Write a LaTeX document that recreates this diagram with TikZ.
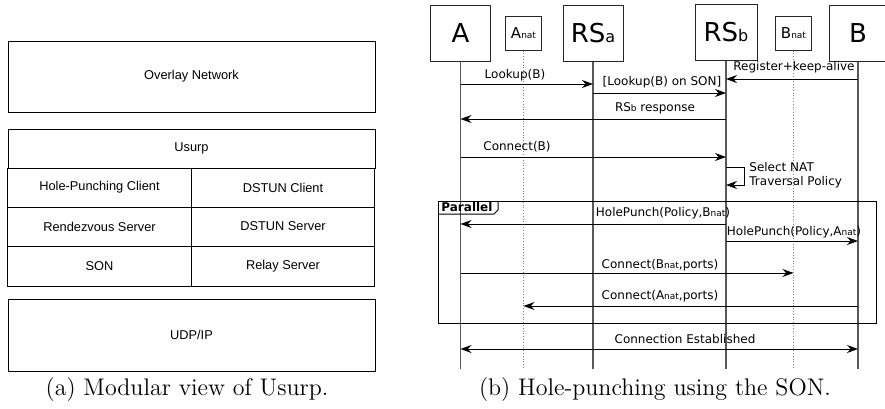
\documentclass[tikz,border=0pt]{standalone}
\usepackage{fontspec}
\newfontfamily\seqfont{DejaVu Sans}
\newfontfamily\layfont{Liberation Sans}
\usetikzlibrary{arrows.meta}

% small "nat" / index letters
\newcommand{\natsm}{{\fontsize{4.5}{5}\selectfont nat}}
\newcommand{\headsm}[1]{{\fontsize{8}{9}\selectfont #1}}

\tikzset{
	layer/.style={draw, line width=0.5pt, minimum width=183.5pt, minimum height=19.5pt, inner sep=0pt, font=\layfont\fontsize{6.4}{7.5}\selectfont},
	half/.style={layer, minimum width=91.75pt},
	head/.style={draw=black!85, line width=0.5pt, minimum width=30pt, minimum height=28pt, inner sep=0pt, font=\seqfont\fontsize{13}{14}\selectfont},
	nathead/.style={head, minimum width=18pt, minimum height=17pt, font=\seqfont\fontsize{7.5}{8}\selectfont},
	life/.style={draw=black!65, line width=0.6pt},
	natlife/.style={draw=black!50, line width=0.4pt, densely dotted},
	msg/.style={->, line width=0.5pt},
	lbl/.style={inner sep=0pt, font=\seqfont\fontsize{6}{7}\selectfont},
	capt/.style={anchor=base, inner sep=0pt, font=\fontsize{12}{14}\selectfont}
}

\begin{document}
\begin{tikzpicture}[x=0.5pt, y=-0.5pt, >={Stealth[length=5.5pt, width=4pt, inset=1.8pt]}]

	\useasboundingbox (0,0) rectangle (885,408);

	% (a) layers
	\node[layer, minimum height=35.5pt] (overlay) at (191.5,76.5) {Overlay Network};
	\node[layer] (usurp) at (191.5,148.5) {Usurp};
	\node[half] (hpc) at (99.5,187.5) {Hole-Punching Client};
	\node[half] (dcl) at (283,187.5) {DSTUN Client};
	\node[half] (rdv) at (99.5,226.5) {Rendezvous Server};
	\node[half] (dsv) at (283,226.5) {DSTUN Server};
	\node[half, minimum height=20pt] (son) at (99.5,266) {SON};
	\node[half, minimum height=20pt] (relay) at (283,266) {Relay Server};
	\node[layer, minimum height=36pt] (udp) at (191.5,335) {UDP/IP};

	\node[capt] (capa) at (187,395) {(a) Modular view of Usurp.};

	% (b) heads
	\node[head] (A) at (460.5,33) {A};
	\node[nathead] (Anat) at (523.5,33) {A\natsm};
	\node[head] (RSa) at (593,33) {RS\headsm{a}};
	\node[head, minimum width=31pt] (RSb) at (726,32) {RS\headsm{b}};
	\node[nathead] (Bnat) at (793.5,33) {B\natsm};
	\node[head, minimum width=29pt] (B) at (858,33) {B};

	% lifelines
	\draw[life] (A) -- (A |- 0,369);
	\draw[natlife] (Anat) -- (Anat |- 0,369);
	\draw[life] (RSa) -- (RSa |- 0,369);
	\draw[life] (RSb) -- (RSb |- 0,369);
	\draw[natlife] (Bnat) -- (Bnat |- 0,369);
	\draw[life] (B) -- (B |- 0,369);

	% lookup
	\draw[msg] (B |- 0,79) -- (RSb |- 0,79);
	\node[lbl] (lreg) at (794,67) {Register+keep-alive};
	\draw[msg] (A |- 0,84) -- (RSa |- 0,84);
	\node[lbl] (llook) at (515,75) {Lookup(B)};
	\draw[msg] (RSa |- 0,93) -- (RSb |- 0,93);
	\node[lbl] (lson) at (662,82) {[Lookup(B) on SON]};
	\draw[msg] (RSb |- 0,119) -- (A |- 0,119);
	\node[lbl] (lresp) at (655,108) {RS{\fontsize{4.5}{5}\selectfont b} response};

	% connect
	\draw[msg] (A |- 0,157) -- (RSb |- 0,157);
	\node[lbl] (lconn) at (517,147) {Connect(B)};
	\draw[msg] (RSb |- 0,167) -| (744,185) -- (RSb |- 0,185);
	\node[lbl, anchor=west] (lsel) at (749,167) {Select NAT};
	\node[lbl, anchor=west] (ltrav) at (749,182) {Traversal Policy};

	% parallel frame
	\draw[line width=0.5pt] (438,201) rectangle (876,323);
	\draw[line width=0.5pt] (438,214) -- (494,214) -- (498,210) -- (498,201);
	\node[lbl, anchor=west, font=\seqfont\bfseries\fontsize{6}{7}\selectfont] (lpar) at (441,207.5) {Parallel};

	\draw[msg] (RSb |- 0,224) -- (A |- 0,224);
	\node[lbl] (lhpb) at (663,213) {HolePunch(Policy,B\natsm)};
	\draw[msg] (RSb |- 0,241) -- (B |- 0,241);
	\node[lbl] (lhpa) at (794,232) {HolePunch(Policy,A\natsm)};
	\draw[msg] (A |- 0,273) -- (Bnat |- 0,273);
	\node[lbl] (lcb) at (660,265) {Connect(B\natsm,ports)};
	\draw[msg] (B |- 0,306) -- (Anat |- 0,306);
	\node[lbl] (lca) at (660,296) {Connect(A\natsm,ports)};

	% established
	\draw[<->, line width=0.5pt] (A |- 0,349) -- (B |- 0,349);
	\node[lbl] (lest) at (685,339) {Connection Established};

	\node[capt] (captb) at (655,395) {(b) Hole-punching using the SON.};

\end{tikzpicture}
\end{document}
